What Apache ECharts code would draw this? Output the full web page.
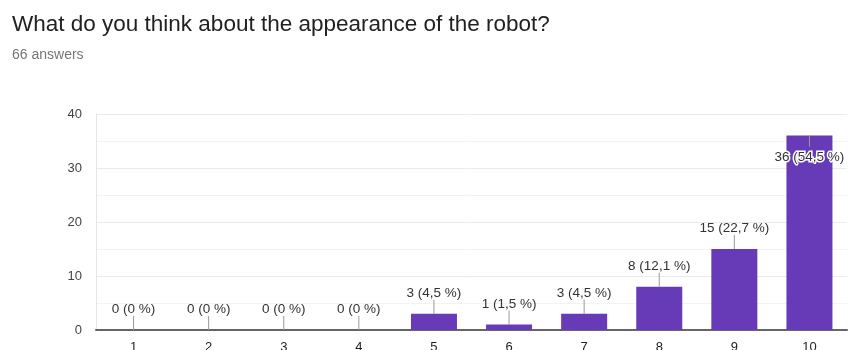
<!DOCTYPE html>
<html>
<head>
<meta charset="utf-8">
<script src="https://cdn.jsdelivr.net/npm/echarts@6/dist/echarts.min.js"></script>
<style>
  html, body { margin: 0; padding: 0; background: #fff; overflow: hidden; }
  #title { position: absolute; left: 12px; top: 11px; font: 22.5px "Liberation Sans", Arial, sans-serif; color: #212121; white-space: nowrap; line-height: 25px; }
  #sub { position: absolute; left: 12px; top: 46px; font: 14px "Liberation Sans", Arial, sans-serif; color: #757575; line-height: 16px; }
  #chart { position: absolute; left: 0; top: 0; width: 848px; height: 360px; }
</style>
</head>
<body>
<div id="chart"></div>
<div id="title">What do you think about the appearance of the robot?</div>
<div id="sub">66 answers</div>
<script>
// Rating scale 1–10 and number of answers per rating
const categories = ['1', '2', '3', '4', '5', '6', '7', '8', '9', '10'];
const counts = [0, 0, 0, 0, 3, 1, 3, 8, 15, 36];
const totalAnswers = 66;
const yTicks = [0, 10, 20, 30, 40];

function pctText(v) {
  const p = v / totalAnswers * 100;
  const s = Number.isInteger(p) ? String(p) : p.toFixed(1).replace('.', ',');
  return v + ' (' + s + ' %)';
}

const labelFont = 'Liberation Sans';
const chart = echarts.init(document.getElementById('chart'), null, { renderer: 'canvas' });

chart.setOption({
  animation: false,
  grid: { left: 96, right: 1, top: 114, height: 216, containLabel: false },
  xAxis: {
    type: 'category',
    data: categories,
    axisLine: { show: true, lineStyle: { color: '#666', width: 2 } },
    axisTick: { show: false },
    axisLabel: { color: '#222', fontSize: 13, fontFamily: labelFont, margin: 11 }
  },
  yAxis: {
    type: 'value',
    min: yTicks[0],
    max: yTicks[yTicks.length - 1],
    interval: 10,
    axisLine: { show: true, lineStyle: { color: '#e6e6e6', width: 1 } },
    axisTick: { show: false },
    axisLabel: { color: '#444', fontSize: 13, fontFamily: labelFont, margin: 14 },
    splitLine: { show: true, lineStyle: { color: '#ebebeb', width: 1 } },
    minorTick: { show: false, splitNumber: 2 },
    minorSplitLine: { show: true, lineStyle: { color: '#f3f3f3', width: 1 } }
  },
  series: [
    {
      type: 'bar',
      data: counts,
      barWidth: 46,
      itemStyle: { color: '#673ab7' },
      z: 2
    },
    {
      // value annotations with a short leader line
      type: 'custom',
      data: counts.map((v, i) => [i, v]),
      z: 5,
      renderItem: function (params, api) {
        const i = api.value(0);
        const v = api.value(1);
        const p = api.coord([i, v]);
        const top = params.coordSys.y;
        const label = pctText(v);
        const inside = p[1] - 36 < top;
        if (inside) {
          return {
            type: 'group',
            children: [
              { type: 'line', shape: { x1: p[0], y1: p[1], x2: p[0], y2: p[1] + 11 }, style: { stroke: '#999', lineWidth: 1 } },
              { type: 'text', style: { x: p[0], y: p[1] + 22, text: label, align: 'center', verticalAlign: 'middle',
                  fill: '#333', fontSize: 13.5, fontFamily: labelFont, stroke: '#fff', lineWidth: 3 } }
            ]
          };
        }
        return {
          type: 'group',
          children: [
            { type: 'line', shape: { x1: p[0], y1: p[1], x2: p[0], y2: p[1] - 14 }, style: { stroke: '#999', lineWidth: 1 } },
            { type: 'text', style: { x: p[0], y: p[1] - 20.5, text: label, align: 'center', verticalAlign: 'middle',
                fill: '#333', fontSize: 13.5, fontFamily: labelFont } }
          ]
        };
      }
    }
  ]
});
</script>
</body>
</html>
